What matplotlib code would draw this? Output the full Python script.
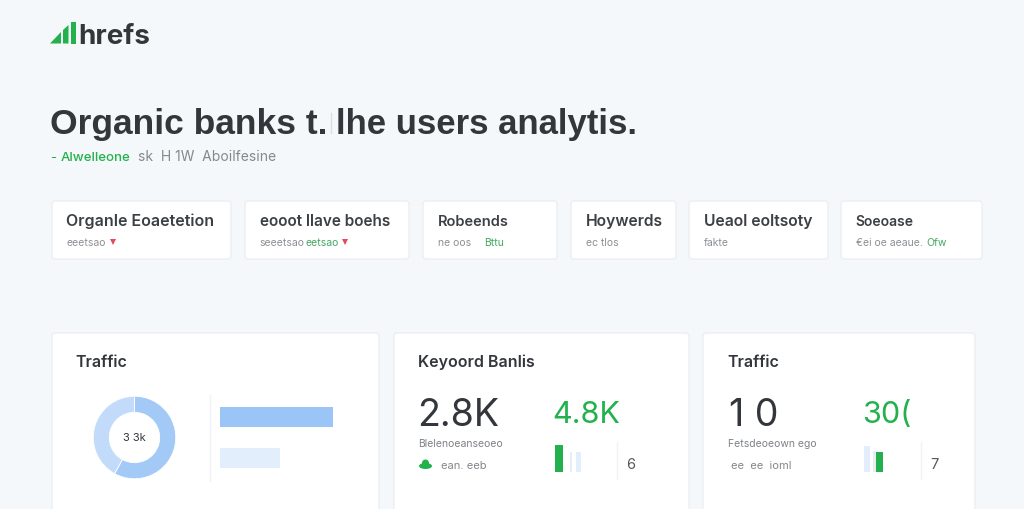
import matplotlib
matplotlib.use('Agg')
import matplotlib.pyplot as plt
from matplotlib.patches import Ellipse, FancyBboxPatch, Polygon, Rectangle

W, H = 1024, 510
FONT = 'Inter'
TITLE_FONT = 'Liberation Sans'
DARK = '#33373c'
GREY = '#85898e'
GREEN = '#22b14c'
BLUE = '#9ac5f6'
PALE = '#e3eefc'

# top row of small cards
top_titles = ['Organle Eoaetetion', 'eooot llave boehs', 'Robeends', 'Hoywerds', 'Ueaol eoltsoty', 'Soeoase']
top_subs = ['eeetsao', 'seeetsao', 'ne oos', 'ec tlos', 'fakte', '€ei oe aeaue.']
top_greens = ['', 'eetsao', 'Bttu', '', '', 'Ofw']
top_hearts = [True, True, False, False, False, False]

# lower row
donut_values = [58, 42]
donut_label = '3 3k'
traffic_bars = [113, 60]
rank_big = ['2.8K', '1 0']
rank_green = ['4.8K', '30(']
rank_side = ['6', '7']
rank_sub = ['Blelenoeanseoeo', 'Fetsdeoeown ego']
rank_foot = ['ean. eeb', 'ee  ee  ioml']
rank_heights = [[27, 20, 20], [26, 21, 20]]

fig = plt.figure(figsize=(W / 100, H / 100), dpi=100, facecolor='#f5f8fa')
ax = fig.add_axes([0, 0, 1, 1])
ax.set_xlim(0, W)
ax.set_ylim(H, 0)
ax.axis('off')


def sub_axes(x0, y0, x1, y1):
    a = fig.add_axes([x0 / W, 1 - y1 / H, (x1 - x0) / W, (y1 - y0) / H])
    a.axis('off')
    return a


def card(x0, y0, x1, y1):
    ax.add_patch(FancyBboxPatch((x0 + 2, y0 + 2), x1 - x0 - 4, y1 - y0 - 4,
                                boxstyle='round,pad=2,rounding_size=3',
                                fc='white', ec='#e9edf1', lw=0.9))


# header
ax.add_patch(Polygon([(50, 44.5), (61, 33), (61, 44.5)], color=GREEN, lw=0))
ax.add_patch(Polygon([(63, 31), (68.5, 26), (68.5, 44.5), (63, 44.5)], color=GREEN, lw=0))
ax.add_patch(Rectangle((71, 22.5), 4.5, 22, color=GREEN, lw=0))
ax.text(78, 44.5, 'hrefs', fontsize=20, fontweight='bold', family=FONT, color=DARK, va='baseline')
ax.text(50, 134, 'Organic banks t.', fontsize=25.5, fontweight='bold', family=TITLE_FONT, color=DARK, va='baseline')
ax.plot([331, 331], [114, 134], color='#dcdfe2', lw=1)
ax.text(336, 134, 'lhe users analytis.', fontsize=25, fontweight='bold', family=TITLE_FONT, color=DARK, va='baseline')
ax.text(50, 161, '-', fontsize=9.5, family=FONT, color=GREEN, va='baseline')
ax.text(61, 161, 'Alwelleone', fontsize=9.5, family=FONT, fontweight='medium', color=GREEN, va='baseline')
ax.text(138, 161, 'sk  H 1W  Aboilfesine', fontsize=10, family=FONT, color=GREY, va='baseline')

# top cards
top_boxes = [(52, 202, 231, 260), (245, 202, 409, 260), (423, 202, 557, 260),
             (571, 202, 676, 260), (689, 202, 828, 260), (841, 202, 982, 260)]
title_sizes = [11.5, 11, 10.5, 11.3, 11.3, 10]
green_x = [0, 306, 484, 0, 0, 926]
for i, box in enumerate(top_boxes):
    card(*box)
    tx = box[0] + 14.5
    ax.text(tx, 226, top_titles[i], fontsize=title_sizes[i], fontweight='semibold', family=FONT, color='#3c4044', va='baseline')
    ax.text(tx, 246, top_subs[i], fontsize=7.5, family=FONT, color='#8c9094', va='baseline')
    if top_greens[i]:
        ax.text(green_x[i], 246, top_greens[i], fontsize=7.5, family=FONT, color='#45a862', va='baseline')
    if top_hearts[i]:
        hx = 113 if i == 0 else 344.5
        ax.plot([hx], [242.5], marker='v', ms=4.5, color='#e8485c', mew=0)

# lower cards
low_boxes = [(52, 334, 379, 530), (394, 334, 689, 530), (703, 334, 975, 530)]
for box in low_boxes:
    card(*box)
for x, title in zip([75, 418, 727], ['Traffic', 'Keyoord Banlis', 'Traffic']):
    ax.text(x, 367, title, fontsize=11.5, fontweight='semibold', family=FONT, color=DARK, va='baseline')

# donut
dax = sub_axes(92, 396, 177, 481)
dax.pie(donut_values, colors=['#a3caf7', '#c3dbfa'], startangle=90, counterclock=False,
        radius=1.0, wedgeprops={'width': 0.39, 'edgecolor': 'white', 'linewidth': 0.6})
dax.set_xlim(-1.03, 1.03)
dax.set_ylim(-1.03, 1.03)
ax.text(134.5, 438, donut_label, fontsize=8, family=FONT, color=DARK, ha='center', va='center')

# horizontal bars
ax.plot([209.5, 209.5], [396, 482], color='#f0f3f5', lw=1)
bax = sub_axes(220, 396, 340, 485)
bax.barh([0, 1], traffic_bars, height=0.5, color=[BLUE, PALE])
bax.set_xlim(0, 120)
bax.set_ylim(1.63, -0.54)
bax.axis('off')

# rank cards
big_x = [417, 729]
green_big_x = [552, 862]
bar_box = [(555, 444, 584, 473), (862, 444, 886, 473)]
side_x = [626, 930]
line_x = [617, 921]
foot_x = [441, 731]
bar_colors = [[GREEN, PALE, PALE], [PALE, '#e8edf3', GREEN]]
bar_pos = [[0, 1.7, 2.4], [0.22, 1.24, 1.57]]
bar_w = [[0.95, 0.2, 0.6], [0.68, 0.35, 0.8]]
for i in range(2):
    ax.text(big_x[i], 426, rank_big[i], fontsize=27, family=FONT, color=DARK, va='baseline')
    ax.text(green_big_x[i], 423, rank_green[i], fontsize=22, family=FONT, color=GREEN, va='baseline')
    ax.text(big_x[i] + 1 if i == 0 else 728, 447, rank_sub[i], fontsize=7.5, family=FONT, color='#7e8286', va='baseline')
    ax.text(foot_x[i], 469, rank_foot[i], fontsize=8, family=FONT, color='#83878b', va='baseline')
    ax.text(side_x[i], 469, rank_side[i], fontsize=10.5, family=FONT, color='#55595d', va='baseline')
    ax.plot([line_x[i]] * 2, [443, 480], color='#f0f3f5', lw=1)
    x0, y0, x1, y1 = bar_box[i]
    rax = sub_axes(x0, y0, x1, y1)
    rax.bar(bar_pos[i], rank_heights[i], width=bar_w[i], align='edge', color=bar_colors[i])
    rax.set_ylim(0, 28.5)
    rax.set_xlim(0, 3.3 if i == 0 else 2.7)
    rax.axis('off')

# small green cloud
ax.add_patch(Ellipse((425.5, 467), 13, 6, color=GREEN, lw=0))
ax.add_patch(Ellipse((425.5, 464), 7, 7, color=GREEN, lw=0))

fig.savefig('out.png', dpi=100, facecolor=fig.get_facecolor())
